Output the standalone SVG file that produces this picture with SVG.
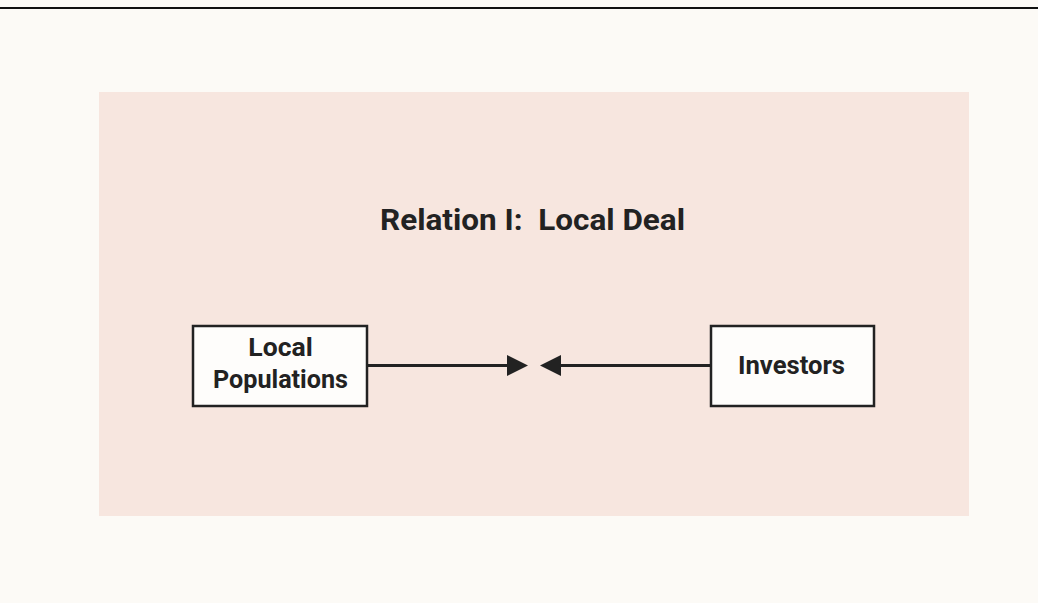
<svg xmlns="http://www.w3.org/2000/svg" width="1038" height="603" viewBox="0 0 1038 603">
<style>
.lbl{font-family:Roboto,"Liberation Sans",sans-serif;font-weight:bold;fill:#222;text-anchor:middle}
.box{fill:#fefdfb;stroke:#222;stroke-width:2.5}
.conn{stroke:#222;stroke-width:2.8;fill:none}
</style>
<defs>
<marker id="ah" markerWidth="24" markerHeight="24" viewBox="0 0 24 24" refX="1" refY="12" orient="auto" markerUnits="userSpaceOnUse">
<path d="M0,1.5 L21,12 L0,22.5 Z" fill="#222"/>
</marker>
</defs>
<rect width="1038" height="603" fill="#fcfaf6"/>
<line x1="0" y1="8" x2="1038" y2="8" stroke="#111" stroke-width="2"/>
<rect x="99" y="92" width="870" height="424" fill="#f7e6df"/>
<text class="lbl" x="532.5" y="230" font-size="29.5" xml:space="preserve" textLength="305" lengthAdjust="spacingAndGlyphs">Relation I:  Local Deal</text>
<g id="local-populations">
<rect class="box" x="193" y="326" width="174" height="80"/>
<text class="lbl" x="280.5" y="356" font-size="26.5">Local</text>
<text class="lbl" x="280.5" y="388" font-size="26.5" textLength="135" lengthAdjust="spacingAndGlyphs">Populations</text>
</g>
<g id="investors">
<rect class="box" x="711" y="326" width="163" height="80"/>
<text class="lbl" x="791.5" y="374" font-size="26.5" textLength="107" lengthAdjust="spacingAndGlyphs">Investors</text>
</g>
<g id="connectors">
<line class="conn" x1="368" y1="365.5" x2="508" y2="365.5" marker-end="url(#ah)"/>
<line class="conn" x1="710" y1="365.5" x2="560" y2="365.5" marker-end="url(#ah)"/>
</g>
</svg>
